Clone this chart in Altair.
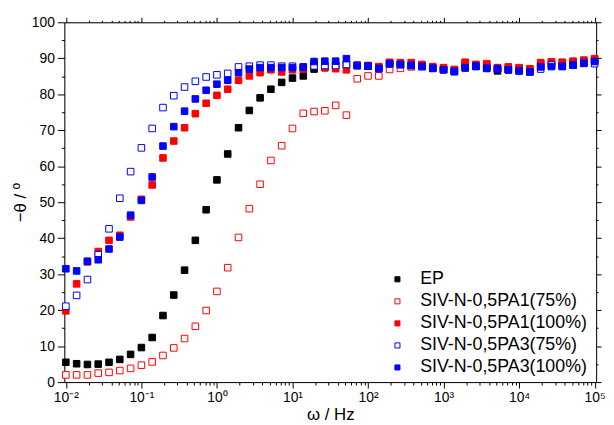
import altair as alt
import pandas as pd

# frequencies (Hz), 7 points per decade
freq = [0.01, 0.01389, 0.01931, 0.02683, 0.03728, 0.05179, 0.07197,
        0.1, 0.1389, 0.1931, 0.2683, 0.3728, 0.5179, 0.7197,
        1.0, 1.389, 1.931, 2.683, 3.728, 5.179, 7.197,
        10.0, 13.89, 19.31, 26.83, 37.28, 51.79, 71.97,
        100.0, 138.9, 193.1, 268.3, 372.8, 517.9, 719.7,
        1000.0, 1389.0, 1931.0, 2683.0, 3728.0, 5179.0, 7197.0,
        10000.0, 13890.0, 19310.0, 26830.0, 37280.0, 51790.0, 71970.0,
        100000.0]

series_names = ["EP", "SIV-N-0,5PA1(75%)", "SIV-N-0,5PA1(100%)",
                "SIV-N-0,5PA3(75%)", "SIV-N-0,5PA3(100%)"]

ep = [5.5, 5.1, 4.9, 5.0, 5.5, 6.3, 7.7, 9.6, 12.4, 18.5, 24.2, 31.1, 39.4, 47.9,
      56.2, 63.4, 70.7, 75.5, 79.0, 81.4, 83.3, 84.5, 85.1, 87.0, 87.4, 88.0, 88.3,
      88.0, 87.8, 87.3, 88.5, 88.3, 88.0, 87.8, 87.3, 86.9, 86.5, 88.0, 87.7, 87.6,
      86.5, 86.8, 86.6, 86.3, 87.8, 88.0, 88.0, 88.4, 88.8, 89.5]

pa1_75 = [2.0, 2.0, 2.0, 2.5, 2.7, 3.2, 3.8, 4.7, 5.6, 7.4, 9.5, 12.1, 15.5, 19.9,
          25.2, 31.8, 40.2, 48.2, 55.0, 61.6, 65.7, 70.5, 74.7, 75.2, 75.4, 76.9, 74.2,
          84.3, 85.1, 85.1, 86.9, 87.2, 87.6, 87.8, 87.4, 87.0, 86.6, 88.5, 88.0, 88.5,
          87.2, 87.5, 87.2, 86.9, 88.6, 89.0, 88.8, 89.0, 89.3, 89.5]

pa1_100 = [19.8, 27.3, 33.4, 36.3, 39.4, 40.8, 45.9, 50.8, 54.8, 62.3, 67.0, 70.7, 74.6,
           77.5, 79.7, 81.4, 83.9, 85.1, 86.0, 86.8, 86.2, 86.8, 87.0, 88.5, 87.4, 87.1,
           86.8, 88.0, 88.0, 87.7, 88.9, 88.8, 88.8, 88.3, 87.7, 87.4, 86.9, 88.9, 88.3,
           88.3, 87.4, 87.6, 87.4, 87.1, 88.8, 88.9, 88.9, 89.2, 89.5, 89.9]

pa3_75 = [21.1, 24.1, 28.5, 35.4, 42.6, 51.1, 58.5, 65.1, 70.5, 76.3, 79.6, 82.0, 83.6,
          84.8, 85.4, 85.8, 87.6, 87.8, 88.1, 88.1, 87.8, 87.8, 87.5, 87.9, 88.0, 88.0,
          88.3, 88.0, 87.8, 87.2, 88.4, 88.2, 88.0, 87.7, 87.2, 86.8, 86.3, 87.4, 87.8,
          87.2, 87.1, 86.8, 86.5, 86.2, 87.0, 88.2, 87.8, 88.1, 88.6, 88.5]

pa3_100 = [31.5, 30.9, 33.6, 34.0, 37.0, 40.3, 46.4, 50.5, 57.0, 65.6, 71.0, 75.3, 78.7,
           81.1, 82.8, 83.9, 86.0, 87.0, 87.4, 87.4, 87.4, 87.4, 87.6, 89.1, 89.2, 89.2,
           89.9, 88.0, 87.8, 87.1, 88.5, 88.3, 88.0, 87.7, 87.2, 86.8, 86.3, 87.3, 87.8,
           87.2, 87.1, 86.8, 86.5, 86.2, 87.6, 87.7, 87.7, 88.1, 88.6, 89.1]

stroke_colors = ["#000000", "#ff0000", "#ff0000", "#0000ff", "#0000ff"]
fill_colors = ["#000000", "#ffffff", "#ff0000", "#ffffff", "#0000ff"]

x_decades = [0.01, 0.1, 1, 10, 100, 1000, 10000, 100000]
x_labels = ["10\u207b\u00b2", "10\u207b\u00b9", "10\u2070", "10\u00b9", "10\u00b2",
            "10\u00b3", "10\u2074", "10\u2075"]
x_ticks = sorted(set([round(m * d, 6) for d in x_decades[:-1] for m in range(1, 10)] + [100000]))
y_ticks = list(range(0, 101, 5))

rows = []
for name, vals in zip(series_names, [ep, pa1_75, pa1_100, pa3_75, pa3_100]):
    for f, v in zip(freq, vals):
        rows.append({"freq": f, "theta": v, "series": name})
df = pd.DataFrame(rows)

FONT = "Liberation Sans"
xscale = alt.Scale(type="log", domain=[0.00955, 104600], nice=False)
yscale = alt.Scale(domain=[0, 100], nice=False, zero=False)

is_dec = "abs(log(datum.value)/LN10 - round(log(datum.value)/LN10)) < 0.001"
lab_arr = "[" + ",".join("'" + s + "'" for s in x_labels) + "]"
x_label_expr = f"{is_dec} ? {lab_arr}[round(log(datum.value)/LN10)+2] : ''"

common_axis = dict(grid=False, domainColor="black", tickColor="black", domainWidth=1,
                   tickWidth=1, labelFont=FONT, labelColor="black", titleFont=FONT,
                   titleColor="black", labelOverlap=False, labelBound=False, labelFlush=False)

x_axis = alt.Axis(orient="bottom", values=x_ticks, labelExpr=x_label_expr,
                  tickSize={"condition": {"test": is_dec, "value": 6}, "value": 3},
                  labelFontSize=14, labelPadding=3, title="\u03c9 / Hz",
                  titleFontSize=17, titleFontWeight="normal", titlePadding=2, **common_axis)
y_axis = alt.Axis(orient="left", values=y_ticks,
                  labelExpr="datum.value % 10 == 0 ? datum.label : ''",
                  tickSize={"condition": {"test": "datum.value % 10 == 0", "value": 7}, "value": 3},
                  labelFontSize=14, labelPadding=3, title="\u2212\u03b8 / \u00ba",
                  titleFontSize=17, titleFontWeight="normal", titlePadding=2, **common_axis)

x_axis_top = alt.Axis(orient="top", values=x_ticks, labels=False, title=None,
                      tickSize={"condition": {"test": is_dec, "value": 5}, "value": 2},
                      **common_axis)
y_axis_right = alt.Axis(orient="right", values=y_ticks, labels=False, title=None,
                        tickSize={"condition": {"test": "datum.value % 10 == 0", "value": 5}, "value": 2},
                        **common_axis)

legend = alt.Legend(title=None, orient="none", legendX=328, legendY=251,
                    labelFont=FONT, labelFontSize=18, labelColor="black", labelLimit=400,
                    symbolSize=26, symbolStrokeWidth=1, symbolType="square",
                    rowPadding=4.3, labelOffset=14, padding=0)

points = alt.Chart(df).mark_point(shape="square", size=44, strokeWidth=1, opacity=1).encode(
    x=alt.X("freq:Q", scale=xscale, axis=x_axis),
    y=alt.Y("theta:Q", scale=yscale, axis=y_axis),
    stroke=alt.Stroke("series:N", scale=alt.Scale(domain=series_names, range=stroke_colors),
                      legend=legend),
    fill=alt.Fill("series:N", scale=alt.Scale(domain=series_names, range=fill_colors),
                  legend=legend),
)

mirror = alt.Chart(df).mark_point(opacity=0).encode(
    x=alt.X("freq:Q", scale=xscale, axis=x_axis_top),
    y=alt.Y("theta:Q", scale=yscale, axis=y_axis_right),
)

chart = alt.layer(points, mirror).resolve_axis(x="independent", y="independent").properties(
    width=538, height=364,
    autosize=alt.AutoSizeParams(type="none"),
    padding={"left": 57, "top": 12, "right": 10, "bottom": 46},
).configure_view(stroke="black", strokeWidth=1).configure(font=FONT, background="white")

chart.save("out.html", embed_options={"renderer": "svg", "actions": False})
